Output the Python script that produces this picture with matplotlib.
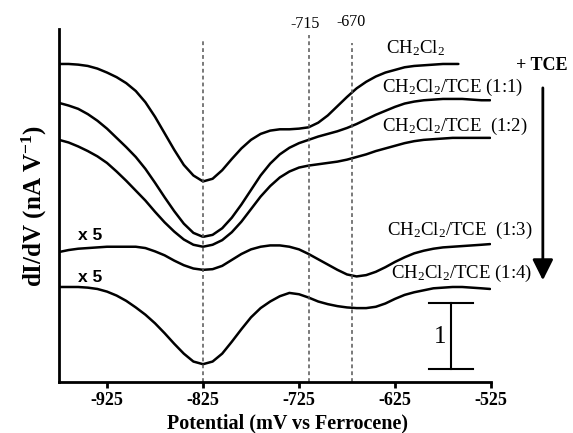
import matplotlib
matplotlib.use("Agg")
import matplotlib.pyplot as plt

# potential (mV vs Fc), read every 10 mV off the figure
potential = [-975, -965, -955, -945, -935, -925, -915, -905, -895, -885, -875, -865,
             -855, -845, -835, -825, -815, -805, -795, -785, -775, -765, -755, -745,
             -735, -725, -715, -705, -695, -685, -675, -665, -655, -645, -635, -625,
             -615, -605, -595, -585, -575, -565, -555, -545, -535, -526]

# dI/dV traces (nA/V, stacked with offsets)
x_ch2cl2 = potential[:42] + [-559]
y_ch2cl2 = [4.82, 4.82, 4.81, 4.79, 4.75, 4.69, 4.62, 4.53, 4.41, 4.24, 4.02, 3.77,
            3.52, 3.29, 3.13, 3.04, 3.08, 3.21, 3.38, 3.54, 3.67, 3.76, 3.81, 3.83,
            3.83, 3.84, 3.86, 3.93, 4.04, 4.18, 4.32, 4.45, 4.55, 4.63, 4.69, 4.73,
            4.77, 4.79, 4.80, 4.81, 4.82, 4.82, 4.82]

y_11 = [4.23, 4.19, 4.14, 4.06, 3.96, 3.84, 3.70, 3.56, 3.41, 3.23, 3.02, 2.80,
        2.59, 2.40, 2.26, 2.20, 2.23, 2.33, 2.49, 2.69, 2.91, 3.13, 3.31, 3.45,
        3.55, 3.62, 3.67, 3.72, 3.76, 3.80, 3.85, 3.91, 3.98, 4.05, 4.11, 4.17,
        4.22, 4.25, 4.27, 4.28, 4.29, 4.29, 4.29, 4.28, 4.27, 4.27]

y_12 = [3.67, 3.63, 3.57, 3.50, 3.42, 3.32, 3.19, 3.05, 2.90, 2.75, 2.58, 2.42,
        2.28, 2.16, 2.08, 2.05, 2.08, 2.15, 2.27, 2.43, 2.62, 2.81, 2.97, 3.10,
        3.19, 3.25, 3.28, 3.30, 3.32, 3.34, 3.37, 3.41, 3.45, 3.50, 3.54, 3.58,
        3.62, 3.65, 3.67, 3.68, 3.69, 3.70, 3.70, 3.70, 3.70, 3.70]

# x5 traces
y_13 = [1.97, 2.00, 2.02, 2.03, 2.04, 2.05, 2.05, 2.05, 2.05, 2.03, 1.98, 1.92,
        1.84, 1.77, 1.72, 1.70, 1.71, 1.76, 1.85, 1.94, 2.01, 2.05, 2.07, 2.07,
        2.05, 2.01, 1.94, 1.86, 1.78, 1.70, 1.63, 1.60, 1.62, 1.67, 1.74, 1.82,
        1.89, 1.95, 1.99, 2.02, 2.04, 2.05, 2.06, 2.07, 2.08, 2.09]

y_14 = [1.44, 1.44, 1.44, 1.43, 1.41, 1.37, 1.31, 1.23, 1.13, 1.02, 0.89, 0.74,
        0.58, 0.43, 0.31, 0.27, 0.31, 0.43, 0.61, 0.80, 0.98, 1.12, 1.22, 1.30,
        1.35, 1.33, 1.28, 1.22, 1.18, 1.15, 1.13, 1.12, 1.12, 1.14, 1.19, 1.26,
        1.32, 1.36, 1.39, 1.42, 1.43, 1.44, 1.44, 1.43, 1.42, 1.41]

marker_lines = [-825, -715, -670]
xticks = [-925, -825, -725, -625, -525]

plt.rcParams['font.family'] = ['Liberation Serif', 'DejaVu Serif']
plt.rcParams['mathtext.fontset'] = 'custom'
plt.rcParams['mathtext.rm'] = 'Liberation Serif'
plt.rcParams['mathtext.bf'] = 'Liberation Serif:bold'
plt.rcParams['mathtext.default'] = 'rm'

fig = plt.figure(figsize=(5.73, 4.33), dpi=100)
ax = fig.add_axes([59 / 573, 51 / 433, 432 / 573, 353 / 433])

traces = [(x_ch2cl2, y_ch2cl2), (potential, y_11), (potential, y_12),
          (potential, y_13), (potential, y_14)]
for xs, ys in traces:
    ax.plot(xs, ys, color='black', lw=1.8, solid_joinstyle='round', solid_capstyle='round')

# dashed guide lines
tops = [5.18, 5.26, 5.14]
for xv, top in zip(marker_lines, tops):
    ax.plot([xv, xv], [0, top], color='#555555', lw=1.1, ls=(0, (2.5, 2)))
ax.text(-719, 5.36, '-715', ha='center', va='baseline', fontsize=11.5)
ax.text(-671, 5.39, '-670', ha='center', va='baseline', fontsize=11.5)

ax.set_xlim(-975, -525)
ax.set_ylim(0, 5.35)
for s in ['top', 'right']:
    ax.spines[s].set_visible(False)
ax.spines['left'].set_linewidth(2)
ax.spines['bottom'].set_linewidth(2)
ax.set_yticks([])
ax.set_xticks(xticks)
ax.set_xticklabels([str(t) for t in xticks], fontweight='bold', fontsize=13)
ax.tick_params(axis='x', direction='out', length=4.5, width=2, pad=3)

ax.set_xlabel('Potential (mV vs Ferrocene)', fontweight='bold', fontsize=14.5, labelpad=2)
ax.xaxis.set_label_coords(0.53, -0.088)
ax.set_ylabel(r'dI/dV (nA V$^{\mathbf{-1}}$)', fontweight='bold', fontsize=18, labelpad=7)

# curve labels
lab = dict(ha='left', va='baseline', fontsize=13.5, clip_on=False)
ax.text(-634, 4.98, r'CH$_2$Cl$_2$', **lab)
ax.text(-638.5, 4.39, r'CH$_2$Cl$_2$/TCE (1:1)', **lab)
ax.text(-638.5, 3.80, r'CH$_2$Cl$_2$/TCE  (1:2)', **lab)
ax.text(-633, 2.23, r'CH$_2$Cl$_2$/TCE  (1:3)', **lab)
ax.text(-629, 1.58, r'CH$_2$Cl$_2$/TCE (1:4)', **lab)

ax.text(-955, 2.15, 'x 5', family='Liberation Sans', fontweight='bold', fontsize=12.5)
ax.text(-955, 1.52, 'x 5', family='Liberation Sans', fontweight='bold', fontsize=12.5)

# + TCE arrow
ax.text(-472, 4.80, '+ TCE', ha='center', va='center', fontweight='bold', fontsize=13)
ax.annotate('', xy=(-471, 1.50), xytext=(-471, 4.50), annotation_clip=False,
            arrowprops=dict(arrowstyle='-|>,head_length=0.9,head_width=0.45',
                            mutation_scale=14, lw=2, color='black'))

# scale bar (1 nA/V)
ax.plot([-567, -567], [0.2, 1.2], color='black', lw=1.5)
ax.plot([-590, -544], [1.2, 1.2], color='black', lw=1.5)
ax.plot([-590, -544], [0.2, 0.2], color='black', lw=1.5)
ax.text(-578, 0.68, '1', ha='center', va='center', fontsize=18)

fig.savefig('out.png', dpi=100)
